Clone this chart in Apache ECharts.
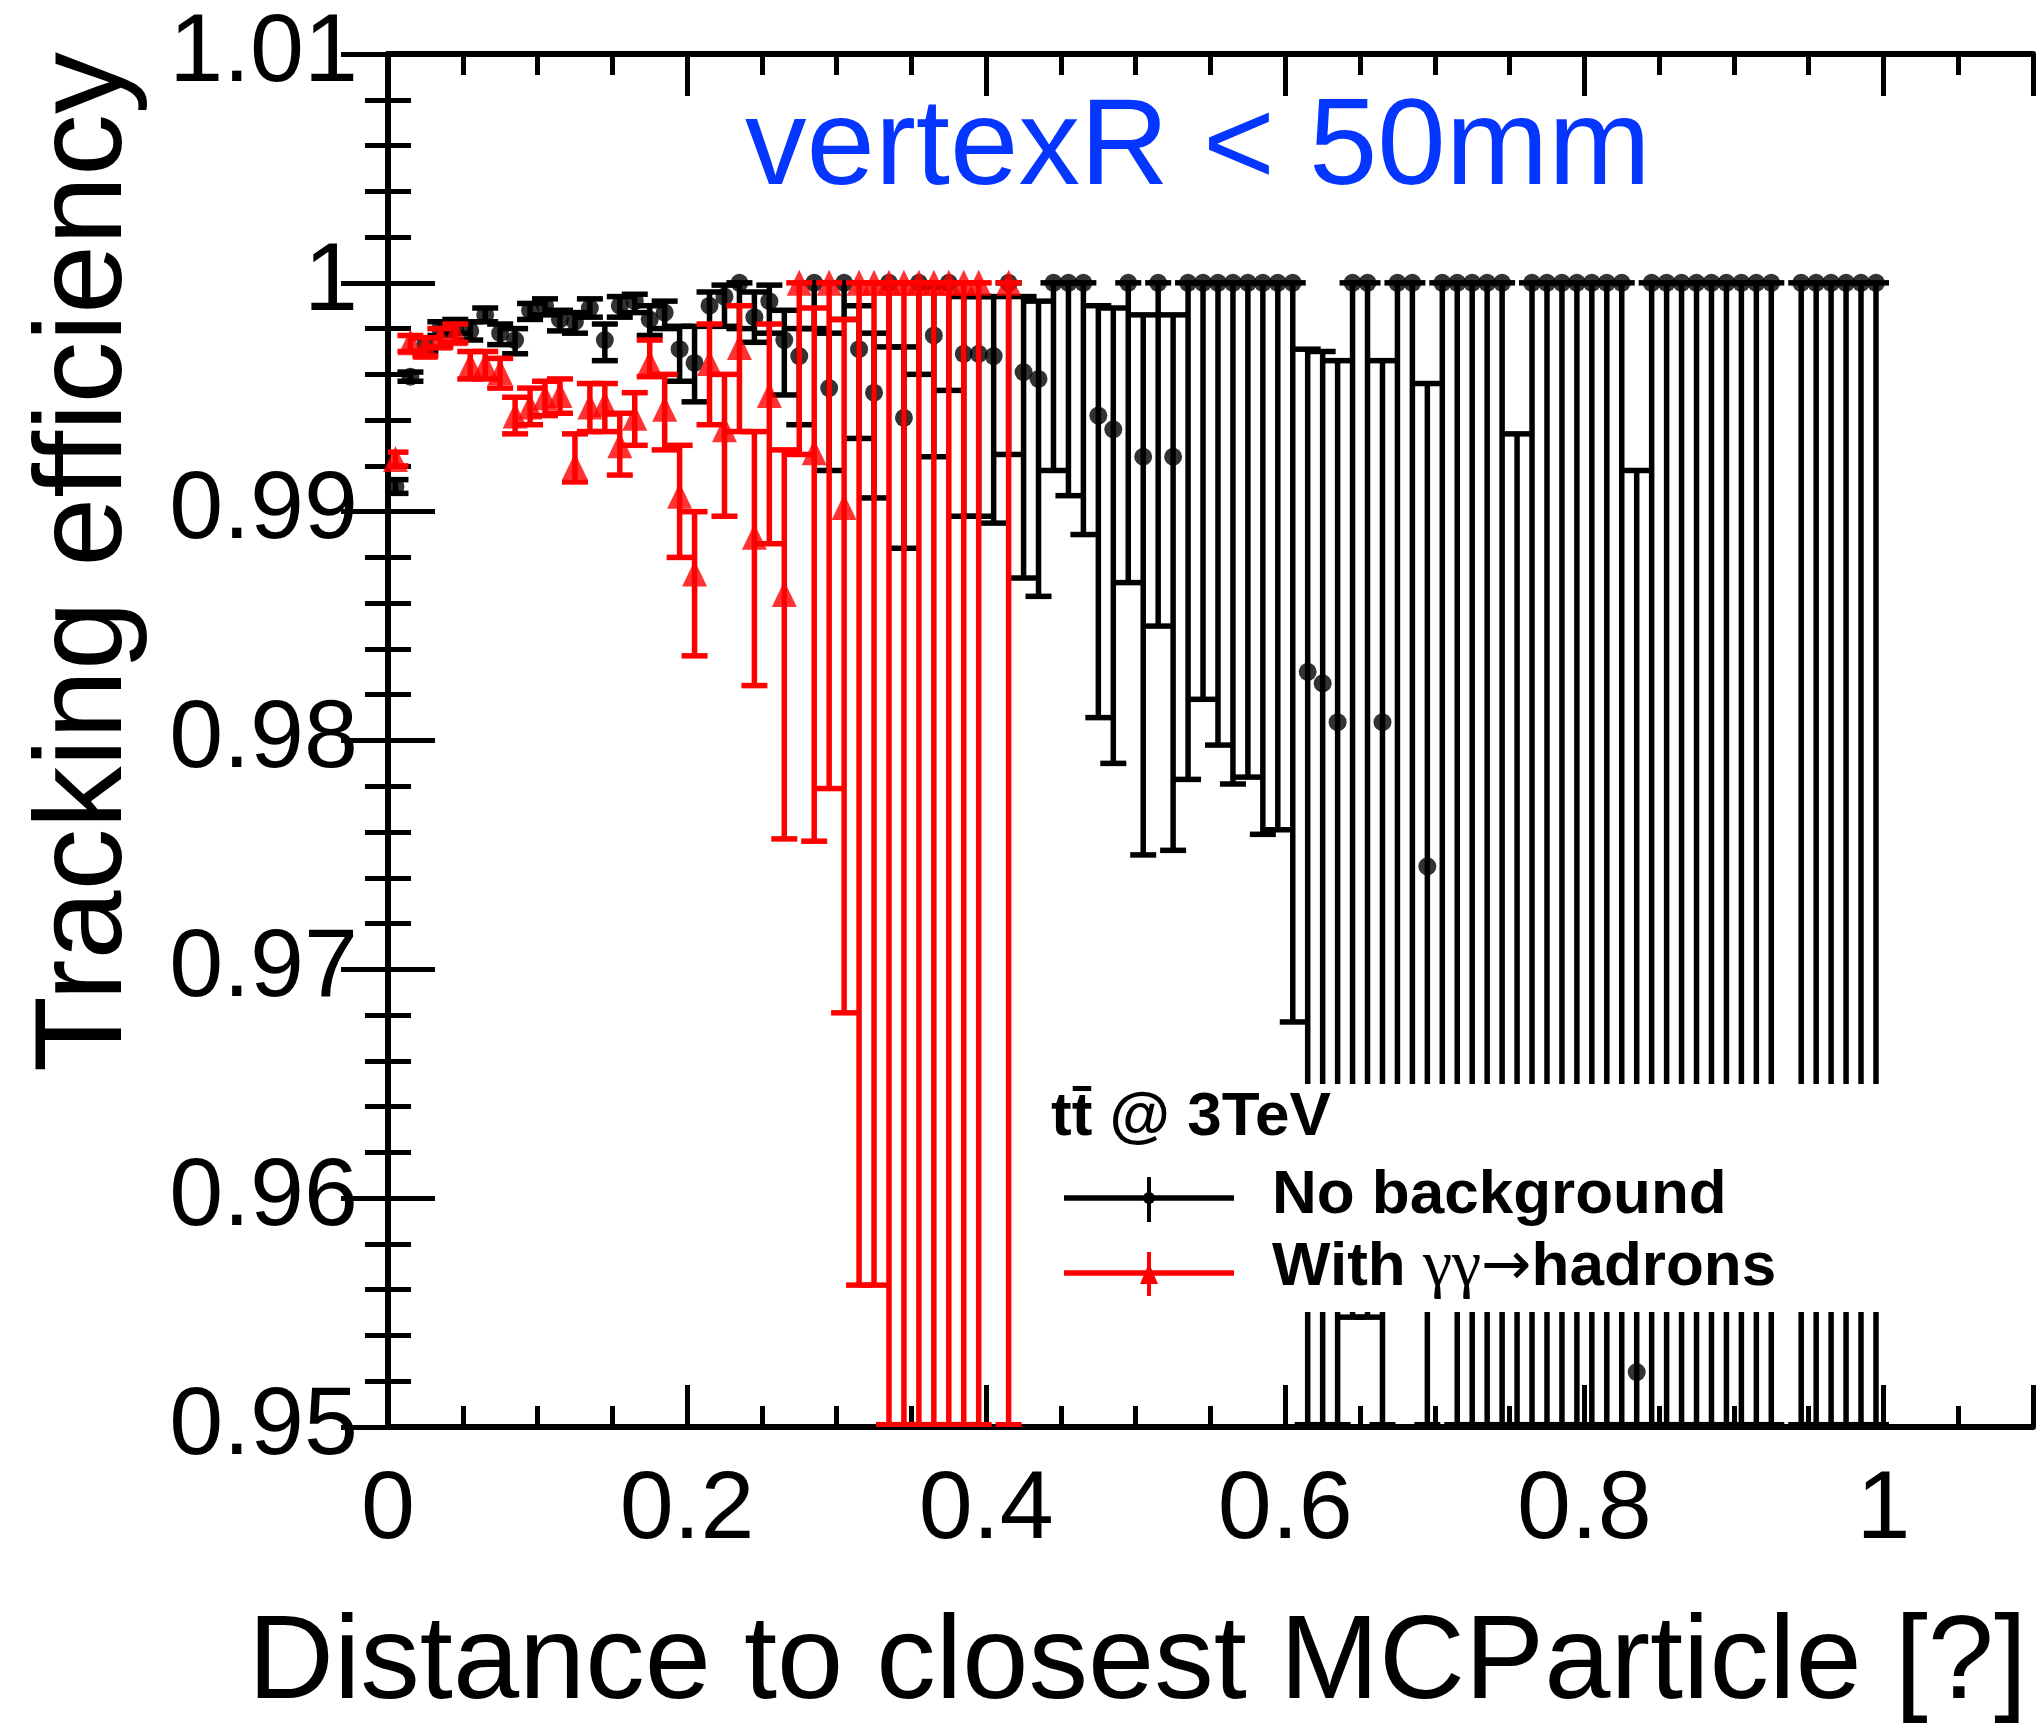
<!DOCTYPE html>
<html>
<head>
<meta charset="utf-8">
<title>Tracking efficiency</title>
<script src="https://cdn.jsdelivr.net/npm/echarts@6/dist/echarts.min.js"></script>
<style>
  html, body { margin: 0; padding: 0; background: #fff; overflow: hidden; }
  #chart { width: 2043px; height: 1730px; }
</style>
</head>
<body>
<div id="chart"></div>
<script>
// bins are 0.01 wide, starting at 0
const binWidth = 0.01;

const xTickLabels = ['0', '0.2', '0.4', '0.6', '0.8', '1'];
const yTickLabels = ['0.95', '0.96', '0.97', '0.98', '0.99', '1', '1.01'];

// No background (black): efficiency, lower and upper end of the error bar
const noBgEff = [
  0.9911, 0.9959, 0.9973, 0.9980, 0.9981, 0.9979, 0.9986, 0.9978, 0.9975, 0.9988,
  0.9990, 0.9984, 0.9983, 0.9989, 0.9975, 0.9990, 0.9992, 0.9984, 0.9987, 0.9971,
  0.9965, 0.9990, 0.9994, 1, 0.9985, 0.9992, 0.9975, 0.9968, 1, 0.9954,
  1, 0.9971, 0.9952, 1, 0.9941, 1, 0.9977, 1, 0.9969, 0.9969,
  0.9968, 1, 0.9961, 0.9958, 1, 1, 1, 0.9942, 0.9936, 1,
  0.9924, 1, 0.9924, 1, 1, 1, 1, 1, 1, 1,
  1, 0.9830, 0.9825, 0.9808, 1, 1, 0.9808, 1, 1, 0.9745,
  1, 1, 1, 1, 1, 0.9600, 1, 1, 1, 1,
  1, 1, 1, 0.9524, 1, 1, 1, 1, 1, 1,
  1, 1, 1, null, 1, 1, 1, 1, 1, 1
];
const noBgLow = [
  0.9908, 0.9957, 0.9970, 0.9977, 0.9978, 0.9975, 0.9983, 0.9973, 0.9969, 0.9984,
  0.9986, 0.9979, 0.9978, 0.9985, 0.9966, 0.9985, 0.9987, 0.9977, 0.9980, 0.9957,
  0.9948, 0.9981, 0.9981, 0.9980, 0.9974, 0.9978, 0.9951, 0.9938, 0.9980, 0.9918,
  0.9984, 0.9932, 0.9906, 0.9972, 0.9884, 0.9960, 0.9924, 0.9953, 0.9898, 0.9898,
  0.9895, 0.9925, 0.9871, 0.9863, 0.9918, 0.9907, 0.9890, 0.9810, 0.9790, 0.9869,
  0.9750, 0.9850, 0.9752, 0.9783, 0.9818, 0.9798, 0.9781, 0.9784, 0.9759, 0.9761,
  0.9677, 0.9501, 0.9501, 0.9501, 0.9548, 0.9548, 0.9501, 0.9600, 0.9600, 0.9501,
  0.9600, 0.9501, 0.9501, 0.9501, 0.9501, 0.9501, 0.9501, 0.9501, 0.9501, 0.9501,
  0.9501, 0.9501, 0.9501, 0.9501, 0.9501, 0.9501, 0.9501, 0.9501, 0.9501, 0.9501,
  0.9501, 0.9501, 0.9501, null, 0.9501, 0.9501, 0.9501, 0.9501, 0.9501, 0.9501
];
const noBgHigh = [
  0.9914, 0.9961, 0.9976, 0.9983, 0.9984, 0.9983, 0.9989, 0.9982, 0.9980, 0.9991,
  0.9993, 0.9988, 0.9987, 0.9993, 0.9982, 0.9994, 0.9995, 0.9990, 0.9992, 0.9981,
  0.9981, 0.9996, 0.9999, 1, 0.9996, 0.9999, 0.9988, 0.9980, 1, 0.9978,
  1, 0.9990, 0.9978, 1, 0.9972, 1, 0.9998, 1, 0.9994, 0.9994,
  0.9994, 1, 0.9994, 0.9992, 1, 1, 1, 0.9990, 0.9989, 1,
  0.9986, 1, 0.9986, 1, 1, 1, 1, 1, 1, 1,
  1, 0.9971, 0.9970, 0.9966, 1, 1, 0.9966, 1, 1, 0.9956,
  1, 1, 1, 1, 1, 0.9934, 1, 1, 1, 1,
  1, 1, 1, 0.9918, 1, 1, 1, 1, 1, 1,
  1, 1, 1, null, 1, 1, 1, 1, 1, 1
];

// With gamma gamma -> hadrons (red)
const withBgEff = [
  0.9923, 0.9974, 0.9972, 0.9976, 0.9978, 0.9964, 0.9964, 0.9961, 0.9942, 0.9946,
  0.9950, 0.9951, 0.9920, 0.9946, 0.9947, 0.9929, 0.9941, 0.9965, 0.9945, 0.9907,
  0.9873, 0.9965, 0.9936, 0.9972, 0.9889, 0.9951, 0.9864, 1, 0.9926, 1,
  0.9902, 1, 1, 1, 1, 1, 1, 1, 1, 1,
  null, 1
];
const withBgLow = [
  0.9920, 0.9970, 0.9968, 0.9972, 0.9974, 0.9958, 0.9958, 0.9954, 0.9934, 0.9938,
  0.9942, 0.9943, 0.9913, 0.9935, 0.9935, 0.9916, 0.9929, 0.9959, 0.9927, 0.9880,
  0.9837, 0.9938, 0.9898, 0.9935, 0.9824, 0.9886, 0.9757, 0.9925, 0.9756, 0.9779,
  0.9681, 0.9562, 0.9562, 0.9501, 0.9501, 0.9501, 0.9501, 0.9501, 0.9501, 0.9501,
  null, 0.9501
];
const withBgHigh = [
  0.9926, 0.9977, 0.9976, 0.9980, 0.9982, 0.9970, 0.9970, 0.9967, 0.9950, 0.9954,
  0.9957, 0.9958, 0.9934, 0.9956, 0.9956, 0.9943, 0.9952, 0.9975, 0.9960, 0.9929,
  0.9900, 0.9982, 0.9960, 0.9990, 0.9935, 0.9982, 0.9927, 1, 0.9989, 1,
  0.9984, 1, 1, 1, 1, 1, 1, 1, 1, 1,
  null, 1
];

function binCenter(i) {
  return (i + 0.5) * binWidth;
}

function pointData(eff) {
  const out = [];
  eff.forEach(function (v, i) {
    if (v !== null) out.push([binCenter(i), v]);
  });
  return out;
}

function errorData(eff, low, high) {
  const out = [];
  eff.forEach(function (v, i) {
    if (v !== null) out.push([binCenter(i), low[i], high[i]]);
  });
  return out;
}

// vertical error bar with end caps
function errorBar(color) {
  return function (params, api) {
    const x = api.value(0);
    const pLo = api.coord([x, api.value(1)]);
    const pHi = api.coord([x, api.value(2)]);
    const half = 13;
    const style = { stroke: color, lineWidth: 5.5 };
    return {
      type: 'group',
      children: [
        { type: 'line', shape: { x1: pLo[0], y1: pLo[1], x2: pHi[0], y2: pHi[1] }, style: style },
        { type: 'line', shape: { x1: pLo[0] - half, y1: pLo[1], x2: pLo[0] + half, y2: pLo[1] }, style: style },
        { type: 'line', shape: { x1: pHi[0] - half, y1: pHi[1], x2: pHi[0] + half, y2: pHi[1] }, style: style }
      ]
    };
  };
}

const FONT = 'Liberation Sans, Arial, Helvetica, sans-serif';

// frame axes: a major axis (line, long ticks, maybe labels) and a minor one (short ticks only)
function xAxisDef(position, interval, length, showLine, labels) {
  return {
    type: 'value', position: position, min: 0, max: 1.1, interval: interval,
    axisLine: { show: showLine, lineStyle: { color: '#000', width: 6 } },
    axisTick: { inside: true, length: length, lineStyle: { color: '#000', width: 5 } },
    axisLabel: labels ? {
      fontFamily: FONT, fontSize: 97, color: '#000', margin: 36,
      formatter: function (v) {
        const i = Math.round(v / 0.2);
        return Math.abs(v - i * 0.2) < 1e-6 && labels[i] ? labels[i] : '';
      }
    } : { show: false },
    splitLine: { show: false }
  };
}

function yAxisDef(position, interval, length, showLine, labels) {
  return {
    type: 'value', position: position, min: 0.95, max: 1.01, interval: interval,
    axisLine: { show: showLine, lineStyle: { color: '#000', width: 6 } },
    axisTick: { inside: true, length: length, lineStyle: { color: '#000', width: 5 } },
    axisLabel: labels ? {
      fontFamily: FONT, fontSize: 97, color: '#000', margin: 30,
      formatter: function (v) {
        return labels[Math.round((v - 0.95) / 0.01)] || '';
      }
    } : { show: false },
    splitLine: { show: false }
  };
}

const chart = echarts.init(document.getElementById('chart'));

const option = {
  animation: false,
  backgroundColor: '#fff',
  grid: { left: 388, right: 10, top: 54, bottom: 303, containLabel: false, outerBoundsMode: 'none' },
  xAxis: [
    xAxisDef('bottom', 0.2, 42, true, xTickLabels),
    xAxisDef('bottom', 0.05, 21, false, null),
    xAxisDef('top', 0.2, 42, true, null),
    xAxisDef('top', 0.05, 21, false, null)
  ],
  yAxis: [
    yAxisDef('left', 0.01, 47, true, yTickLabels),
    yAxisDef('left', 0.002, 23, false, null),
    yAxisDef('right', 0.01, 47, true, null),
    yAxisDef('right', 0.002, 23, false, null)
  ],
  series: [
    {
      name: 'No background', type: 'custom', renderItem: errorBar('#000'),
      data: errorData(noBgEff, noBgLow, noBgHigh), encode: { x: 0, y: [1, 2] },
      clip: true, z: 2
    },
    {
      name: 'No background', type: 'scatter', data: pointData(noBgEff),
      symbol: 'circle', symbolSize: 18, itemStyle: { color: '#000' }, z: 3
    },
    {
      name: 'With background', type: 'custom', renderItem: errorBar('#ff0000'),
      data: errorData(withBgEff, withBgLow, withBgHigh), encode: { x: 0, y: [1, 2] },
      clip: true, z: 4
    },
    {
      name: 'With background', type: 'scatter', data: pointData(withBgEff),
      symbol: 'triangle', symbolSize: [25, 26], itemStyle: { color: '#ff0000' }, z: 5
    }
  ],
  graphic: [
    // title
    {
      type: 'text', x: 745, y: 212, z: 100,
      style: { text: 'vertexR < 50mm', fontFamily: FONT, fontSize: 123, fill: '#0536ff', align: 'left', verticalAlign: 'bottom' }
    },
    // axis titles
    {
      type: 'text', x: 2027, y: 1725, z: 100,
      style: { text: 'Distance to closest MCParticle [?]', fontFamily: FONT, fontSize: 119, fill: '#000', align: 'right', verticalAlign: 'bottom' }
    },
    {
      type: 'text', x: 149, y: 52, rotation: Math.PI / 2, z: 100,
      style: { text: 'Tracking efficiency', fontFamily: FONT, fontSize: 124, fill: '#000', align: 'right', verticalAlign: 'bottom' }
    },
    // legend box (white, covers the bars behind it)
    {
      type: 'rect', z: 100, shape: { x: 1025, y: 1084, width: 870, height: 228 },
      style: { fill: '#fff', stroke: null }
    },
    {
      type: 'text', x: 1051, y: 1149, z: 101,
      style: { text: 'tt\u0304 @ 3TeV', fontFamily: FONT, fontWeight: 'bold', fontSize: 62, fill: '#000', align: 'left', verticalAlign: 'bottom' }
    },
    {
      type: 'text', x: 1272, y: 1227, z: 101,
      style: { text: 'No background', fontFamily: FONT, fontWeight: 'bold', fontSize: 62, fill: '#000', align: 'left', verticalAlign: 'bottom' }
    },
    {
      type: 'text', x: 1272, y: 1301, z: 101,
      style: {
        text: '{b|With }{g|\u03b3\u03b3}{a|\u2192}{b|hadrons}', align: 'left', verticalAlign: 'bottom',
        rich: {
          b: { fontFamily: FONT, fontWeight: 'bold', fontSize: 62, fill: '#000' },
          g: { fontFamily: 'Liberation Serif, serif', fontSize: 66, fill: '#000' },
          a: { fontFamily: 'DejaVu Sans, sans-serif', fontSize: 60, fill: '#000' }
        }
      }
    },
    // legend markers
    { type: 'line', z: 101, shape: { x1: 1064, y1: 1198, x2: 1234, y2: 1198 }, style: { stroke: '#000', lineWidth: 5.5 } },
    { type: 'line', z: 101, shape: { x1: 1149, y1: 1177, x2: 1149, y2: 1222 }, style: { stroke: '#000', lineWidth: 4 } },
    { type: 'circle', z: 102, shape: { cx: 1149, cy: 1198, r: 6 }, style: { fill: '#000' } },
    { type: 'line', z: 101, shape: { x1: 1064, y1: 1273, x2: 1234, y2: 1273 }, style: { stroke: '#ff0000', lineWidth: 5.5 } },
    { type: 'line', z: 101, shape: { x1: 1149, y1: 1252, x2: 1149, y2: 1296 }, style: { stroke: '#ff0000', lineWidth: 4 } },
    { type: 'polygon', z: 102, shape: { points: [[1149, 1263], [1140, 1284], [1158, 1284]] }, style: { fill: '#ff0000' } }
  ]
};

chart.setOption(option);
</script>
</body>
</html>
